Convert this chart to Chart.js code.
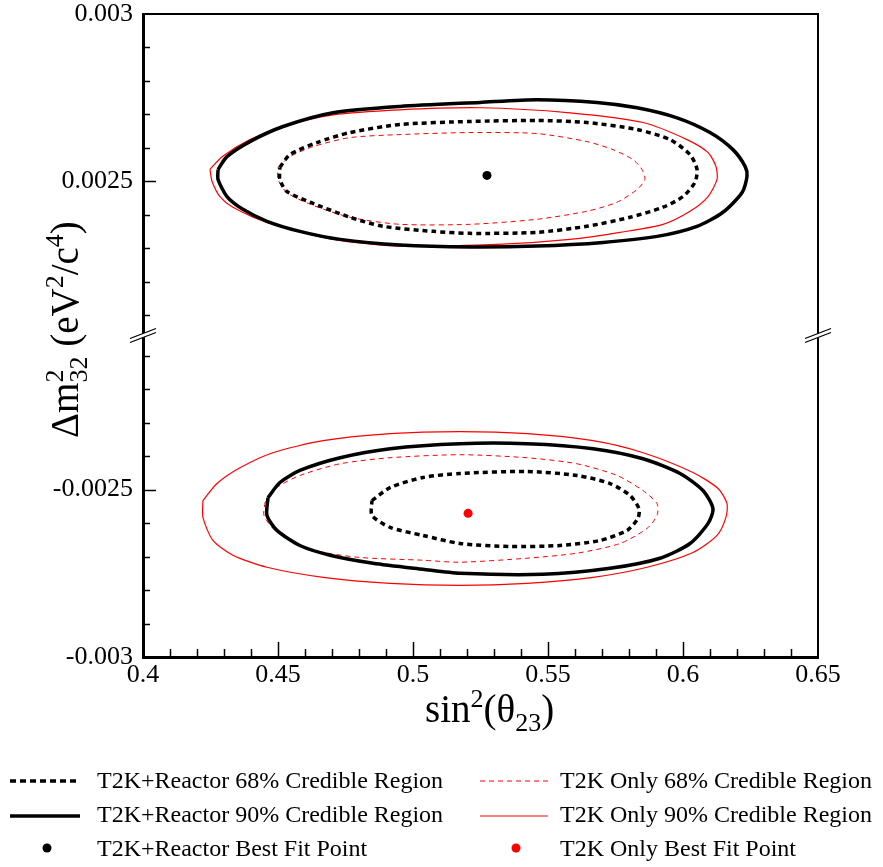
<!DOCTYPE html>
<html>
<head>
<meta charset="utf-8">
<script src="https://cdn.jsdelivr.net/npm/chart.js@4.4.1/dist/chart.umd.min.js"></script>
<style>
    html, body { margin: 0; padding: 0; background: #fff; }
    #chart { display: block; }
</style>
</head>
<body>
<canvas id="chart" width="883" height="867"></canvas>
<script>
(function () {
    'use strict';

    // The y axis is broken: the band between -BREAK and +BREAK is cut out.
    var BREAK = 0.00204;

    var xTickValues = [0.4, 0.45, 0.5, 0.55, 0.6, 0.65];
    var xTickLabels = ['0.4', '0.45', '0.5', '0.55', '0.6', '0.65'];
    var yTickValues = [-0.003, -0.0025, 0.0025, 0.003];
    var yTickLabels = ['-0.003', '-0.0025', '0.0025', '0.003'];

    // Upper branch (dm2 > 0): T2K+Reactor
    var nhReactor90X = [0.4278, 0.4311, 0.4396, 0.4519, 0.4704, 0.4952, 0.5248, 0.5459, 0.5681, 0.5830, 0.5978, 0.6100, 0.6185, 0.6230, 0.6237, 0.6219, 0.6148, 0.6052, 0.5904, 0.5704, 0.5459, 0.5211, 0.4952, 0.4730, 0.4581, 0.4459, 0.4370, 0.4311, 0.4278];
    var nhReactor90Y = [0.002536, 0.002574, 0.002619, 0.002664, 0.002705, 0.002724, 0.002736, 0.002744, 0.002736, 0.002720, 0.002690, 0.002646, 0.002595, 0.002545, 0.002515, 0.002467, 0.002408, 0.002366, 0.002336, 0.002318, 0.002307, 0.002304, 0.002310, 0.002327, 0.002351, 0.002381, 0.002417, 0.002455, 0.002506];
    var nhReactor68X = [0.4507, 0.4544, 0.4644, 0.4767, 0.4952, 0.5211, 0.5459, 0.5644, 0.5830, 0.5952, 0.6026, 0.6052, 0.6044, 0.6000, 0.5926, 0.5804, 0.5644, 0.5459, 0.5211, 0.5074, 0.4889, 0.4767, 0.4619, 0.4533, 0.4507];
    var nhReactor68Y = [0.002542, 0.002580, 0.002616, 0.002646, 0.002670, 0.002679, 0.002682, 0.002676, 0.002655, 0.002625, 0.002580, 0.002536, 0.002497, 0.002455, 0.002423, 0.002393, 0.002366, 0.002348, 0.002345, 0.002351, 0.002366, 0.002393, 0.002438, 0.002470, 0.002506];

    // Upper branch: T2K only
    var nhT2K90X = [0.4248, 0.4293, 0.4396, 0.4519, 0.4704, 0.4952, 0.5248, 0.5581, 0.5852, 0.6015, 0.6093, 0.6122, 0.6126, 0.6093, 0.6026, 0.5926, 0.5767, 0.5581, 0.5333, 0.4952, 0.4704, 0.4459, 0.4333, 0.4285, 0.4256];
    var nhT2K90Y = [0.002536, 0.002574, 0.002625, 0.002664, 0.002699, 0.002714, 0.002720, 0.002705, 0.002676, 0.002625, 0.002586, 0.002545, 0.002506, 0.002455, 0.002411, 0.002372, 0.002348, 0.002327, 0.002313, 0.002307, 0.002327, 0.002378, 0.002423, 0.002455, 0.002500];
    var nhT2K68X = [0.4500, 0.4544, 0.4630, 0.4767, 0.4952, 0.5211, 0.5459, 0.5644, 0.5741, 0.5815, 0.5848, 0.5859, 0.5830, 0.5756, 0.5644, 0.5459, 0.5211, 0.4952, 0.4767, 0.4619, 0.4533, 0.4500];
    var nhT2K68Y = [0.002542, 0.002574, 0.002604, 0.002631, 0.002640, 0.002646, 0.002643, 0.002619, 0.002595, 0.002565, 0.002536, 0.002506, 0.002476, 0.002438, 0.002411, 0.002387, 0.002372, 0.002372, 0.002393, 0.002432, 0.002467, 0.002506];

    // Lower branch (dm2 < 0): T2K+Reactor
    var ihReactor90X = [0.4463, 0.4507, 0.4581, 0.4730, 0.4915, 0.5174, 0.5422, 0.5667, 0.5852, 0.5989, 0.6074, 0.6111, 0.6093, 0.6026, 0.5915, 0.5730, 0.5481, 0.5174, 0.5037, 0.4852, 0.4693, 0.4581, 0.4496, 0.4459];
    var ihReactor90Y = [-0.002524, -0.002479, -0.002443, -0.002405, -0.002378, -0.002363, -0.002363, -0.002378, -0.002408, -0.002452, -0.002503, -0.002557, -0.002601, -0.002661, -0.002705, -0.002735, -0.002753, -0.002750, -0.002738, -0.002720, -0.002696, -0.002667, -0.002622, -0.002577];
    var ihReactor68X = [0.4848, 0.4915, 0.5037, 0.5174, 0.5422, 0.5607, 0.5730, 0.5804, 0.5837, 0.5833, 0.5793, 0.5693, 0.5544, 0.5359, 0.5174, 0.5037, 0.4915, 0.4848];
    var ihReactor68Y = [-0.002533, -0.002494, -0.002464, -0.002452, -0.002446, -0.002458, -0.002482, -0.002518, -0.002557, -0.002586, -0.002622, -0.002652, -0.002667, -0.002670, -0.002661, -0.002637, -0.002613, -0.002577];

    // Lower branch: T2K only
    var ihT2K90X = [0.4222, 0.4274, 0.4359, 0.4481, 0.4667, 0.4915, 0.5174, 0.5422, 0.5667, 0.5852, 0.6037, 0.6130, 0.6163, 0.6159, 0.6126, 0.6037, 0.5867, 0.5667, 0.5422, 0.5174, 0.4915, 0.4667, 0.4459, 0.4333, 0.4259, 0.4222];
    var ihT2K90Y = [-0.002533, -0.002482, -0.002435, -0.002390, -0.002354, -0.002333, -0.002327, -0.002333, -0.002354, -0.002390, -0.002449, -0.002497, -0.002542, -0.002583, -0.002637, -0.002688, -0.002732, -0.002762, -0.002780, -0.002786, -0.002780, -0.002762, -0.002732, -0.002696, -0.002652, -0.002583];
    var ihT2K68X = [0.4452, 0.4496, 0.4581, 0.4730, 0.4915, 0.5174, 0.5422, 0.5607, 0.5756, 0.5852, 0.5904, 0.5904, 0.5867, 0.5767, 0.5607, 0.5422, 0.5174, 0.5037, 0.4793, 0.4607, 0.4489, 0.4448];
    var ihT2K68Y = [-0.002539, -0.002494, -0.002458, -0.002423, -0.002405, -0.002396, -0.002405, -0.002423, -0.002458, -0.002503, -0.002542, -0.002577, -0.002616, -0.002661, -0.002690, -0.002705, -0.002717, -0.002711, -0.002702, -0.002676, -0.002622, -0.002577];

    // Best fit points [sin2, dm2]
    var reactorBest = [0.5274, 0.002518];
    var t2kBest = [0.5204, -0.002571];

    var legendLabels = [
        'T2K+Reactor 68% Credible Region',
        'T2K+Reactor 90% Credible Region',
        'T2K+Reactor Best Fit Point',
        'T2K Only 68% Credible Region',
        'T2K Only 90% Credible Region',
        'T2K Only Best Fit Point'
    ];

    var FONT = '"Liberation Serif", "Times New Roman", serif';
    var RED = '#ff0000';
    var DOTTED = [5, 4];
    var DASHED = [5, 4];

    function toAxis(v) {
        return v > 0 ? v - BREAK : v + BREAK;
    }

    // closed contour for a scatter line
    function ring(xs, ys) {
        var pts = xs.map(function (x, i) { return { x: x, y: toAxis(ys[i]) }; });
        pts.push({ x: pts[0].x, y: pts[0].y });
        return pts;
    }

    function contour(label, xs, ys, color, width, dash) {
        return {
            label: label,
            data: ring(xs, ys),
            showLine: true,
            borderColor: color,
            borderWidth: width,
            borderDash: dash || [],
            borderCapStyle: 'butt',
            pointRadius: 0,
            pointHoverRadius: 0,
            tension: 0.25,
            fill: false
        };
    }

    function bestFit(label, pt, color) {
        return {
            label: label,
            data: [{ x: pt[0], y: toAxis(pt[1]) }],
            showLine: false,
            pointRadius: 4.5,
            pointBackgroundColor: color,
            pointBorderColor: color,
            pointBorderWidth: 0
        };
    }

    // draw text runs with super/subscripts; hold keeps x for a stacked run
    function drawRich(ctx, x, y, parts) {
        var cx = x, held = 0;
        parts.forEach(function (p) {
            ctx.font = p.s + 'px ' + FONT;
            ctx.fillText(p.t, cx, y + (p.dy || 0));
            var w = ctx.measureText(p.t).width;
            if (p.hold) {
                held = w;
            } else {
                cx += Math.max(w, held);
                held = 0;
            }
        });
    }

    function line(ctx, x1, y1, x2, y2) {
        ctx.beginPath();
        ctx.moveTo(x1, y1);
        ctx.lineTo(x2, y2);
        ctx.stroke();
    }

    var decorPlugin = {
        id: 'decor',
        afterDraw: function (chart) {
            var ctx = chart.ctx;
            var a = chart.chartArea;
            var xs = chart.scales.x, ys = chart.scales.y;
            var i, v, p, len;

            ctx.save();
            ctx.strokeStyle = '#000';
            ctx.fillStyle = '#000';

            // top and right frame
            ctx.lineWidth = 2;
            line(ctx, a.left, a.top, a.right + 1, a.top);
            line(ctx, a.right, a.top, a.right, a.bottom);

            // inward ticks
            ctx.lineWidth = 1.5;
            for (i = 1; i < 25; i++) {
                v = 0.4 + i * 0.01;
                p = Math.round(xs.getPixelForValue(v)) + 0.5;
                len = i % 5 === 0 ? 15 : 8;
                line(ctx, p, a.bottom, p, a.bottom - len);
            }
            for (i = 21; i < 30; i++) {
                len = i === 25 ? 13 : 7;
                [1, -1].forEach(function (sgn) {
                    var py = Math.round(ys.getPixelForValue(toAxis(sgn * i * 0.0001))) + 0.5;
                    line(ctx, a.left, py, a.left + len, py);
                });
            }

            // axis break marks
            var cy = ys.getPixelForValue(0);
            [a.left, a.right].forEach(function (cx) {
                ctx.fillStyle = '#fff';
                ctx.beginPath();
                ctx.moveTo(cx - 13, cy + 3);
                ctx.lineTo(cx + 13, cy - 7);
                ctx.lineTo(cx + 13, cy - 3);
                ctx.lineTo(cx - 13, cy + 7);
                ctx.closePath();
                ctx.fill();
                ctx.lineWidth = 1.3;
                line(ctx, cx - 13, cy + 3, cx + 13, cy - 7);
                line(ctx, cx - 13, cy + 7, cx + 13, cy - 3);
            });

            // axis titles
            ctx.fillStyle = '#000';
            ctx.textBaseline = 'alphabetic';
            ctx.textAlign = 'left';
            drawRich(ctx, 425, 722, [
                { t: 'sin', s: 39 },
                { t: '2', s: 26, dy: -15 },
                { t: '(\u03b8', s: 39 },
                { t: '23', s: 26, dy: 9 },
                { t: ')', s: 39 }
            ]);
            ctx.save();
            ctx.translate(78, 438);
            ctx.rotate(-Math.PI / 2);
            drawRich(ctx, 0, 0, [
                { t: '\u0394m', s: 39 },
                { t: '2', s: 26, dy: -15, hold: true },
                { t: '32', s: 26, dy: 9 },
                { t: ' (eV', s: 39 },
                { t: '2', s: 26, dy: -15 },
                { t: '/c', s: 39 },
                { t: '4', s: 26, dy: -15 },
                { t: ')', s: 39 }
            ]);
            ctx.restore();

            // legend, two columns of three rows
            var cols = [{ x0: 10, x1: 80, tx: 97, color: '#000', w68: 3.5, w90: 3.5, dot: 47 },
                        { x0: 480, x1: 548, tx: 560, color: RED, w68: 1, w90: 1.2, dot: 516 }];
            var rowY = [781, 816, 848];
            var baseY = [788, 822, 856];
            ctx.font = '24px ' + FONT;
            cols.forEach(function (c, ci) {
                ctx.strokeStyle = c.color;
                ctx.fillStyle = c.color;
                ctx.lineWidth = c.w68;
                ctx.setLineDash(ci === 0 ? [6, 4] : DASHED);
                line(ctx, c.x0, rowY[0], c.x1, rowY[0]);
                ctx.setLineDash([]);
                ctx.lineWidth = c.w90;
                line(ctx, c.x0, rowY[1], c.x1, rowY[1]);
                ctx.beginPath();
                ctx.arc(c.dot, rowY[2], 4.5, 0, Math.PI * 2);
                ctx.fill();
                ctx.fillStyle = '#000';
                for (var r = 0; r < 3; r++) {
                    ctx.fillText(legendLabels[ci * 3 + r], c.tx, baseY[r]);
                }
            });
            ctx.restore();
        }
    };

    var tickFont = { family: FONT, size: 26 };

    new Chart(document.getElementById('chart'), {
        type: 'scatter',
        data: {
            datasets: [
                bestFit(legendLabels[2], reactorBest, '#000'),
                bestFit(legendLabels[5], t2kBest, RED),
                contour(legendLabels[0], nhReactor68X, nhReactor68Y, '#000', 3.5, DOTTED),
                contour(legendLabels[1], nhReactor90X, nhReactor90Y, '#000', 3.5),
                contour(legendLabels[0], ihReactor68X, ihReactor68Y, '#000', 3.5, DOTTED),
                contour(legendLabels[1], ihReactor90X, ihReactor90Y, '#000', 3.5),
                contour(legendLabels[3], nhT2K68X, nhT2K68Y, RED, 1, DASHED),
                contour(legendLabels[4], nhT2K90X, nhT2K90Y, RED, 1.2),
                contour(legendLabels[3], ihT2K68X, ihT2K68Y, RED, 1, DASHED),
                contour(legendLabels[4], ihT2K90X, ihT2K90Y, RED, 1.2)
            ]
        },
        options: {
            responsive: false,
            animation: false,
            layout: { padding: { top: 14, right: 65, bottom: 0, left: 0 } },
            plugins: {
                legend: { display: false },
                tooltip: { enabled: false }
            },
            scales: {
                x: {
                    type: 'linear',
                    min: 0.4,
                    max: 0.65,
                    afterFit: function (s) {
                        s.height = 210;
                        s.paddingLeft = 0;
                        s.paddingRight = 0;
                    },
                    afterBuildTicks: function (s) {
                        s.ticks = xTickValues.map(function (v) { return { value: v }; });
                    },
                    grid: { display: false, drawTicks: false, tickLength: 0 },
                    border: { display: true, color: '#000', width: 3 },
                    ticks: {
                        autoSkip: false,
                        maxRotation: 0,
                        padding: 3,
                        color: '#000',
                        font: tickFont,
                        callback: function (val, idx) { return xTickLabels[idx]; }
                    }
                },
                y: {
                    type: 'linear',
                    min: toAxis(-0.003),
                    max: toAxis(0.003),
                    afterFit: function (s) {
                        s.width = 143;
                        s.paddingTop = 0;
                        s.paddingBottom = 0;
                    },
                    afterBuildTicks: function (s) {
                        s.ticks = yTickValues.map(function (v) { return { value: toAxis(v) }; });
                    },
                    grid: { display: false, drawTicks: false, tickLength: 0 },
                    border: { display: true, color: '#000', width: 3 },
                    ticks: {
                        autoSkip: false,
                        padding: 10,
                        color: '#000',
                        font: tickFont,
                        callback: function (val, idx) { return yTickLabels[idx]; }
                    }
                }
            }
        },
        plugins: [decorPlugin]
    });
})();
</script>
</body>
</html>
